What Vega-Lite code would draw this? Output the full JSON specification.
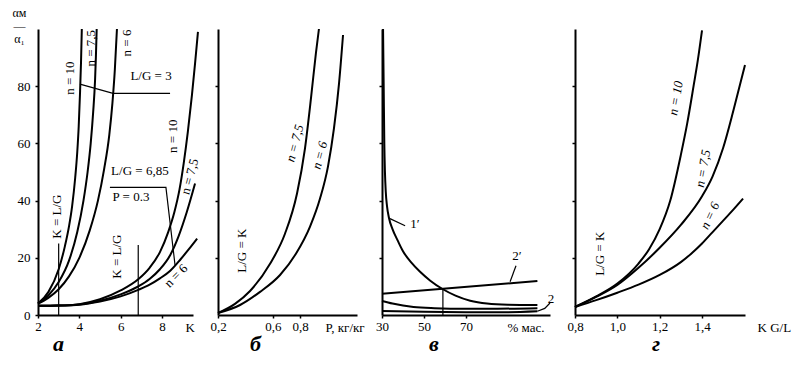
{
  "$schema": "https://vega.github.io/schema/vega-lite/v6.json",
  "padding": {"left": 12, "top": 6, "right": 2, "bottom": 2},
  "bounds": "flush",
  "spacing": 25,
  "config": {
    "view": {"stroke": null},
    "axis": {"domainColor": "black", "domainWidth": 2, "tickColor": "black", "tickWidth": 1.5, "tickSize": 3, "labelFont": "Liberation Serif", "labelFontSize": 13, "labelColor": "black", "labelFlush": false, "grid": false, "titleFont": "Liberation Serif", "titleFontSize": 13, "titleFontWeight": "normal", "titleColor": "black"},
    "text": {"font": "Liberation Serif", "fontSize": 13, "color": "black"},
    "line": {"color": "black"},
    "title": {"font": "Liberation Serif", "fontSize": 22, "fontStyle": "italic", "fontWeight": "bold", "color": "black"}
  },
  "datasets": {
    "a_curves": [
      {"curve": "3_10", "K": 2, "v": 4}, {"curve": "3_10", "K": 2.5, "v": 8}, {"curve": "3_10", "K": 3, "v": 16}, {"curve": "3_10", "K": 3.3, "v": 24}, {"curve": "3_10", "K": 3.5, "v": 31}, {"curve": "3_10", "K": 3.65, "v": 38}, {"curve": "3_10", "K": 3.8, "v": 48}, {"curve": "3_10", "K": 3.9, "v": 57}, {"curve": "3_10", "K": 3.97, "v": 66}, {"curve": "3_10", "K": 4.03, "v": 77}, {"curve": "3_10", "K": 4.08, "v": 88}, {"curve": "3_10", "K": 4.12, "v": 100},
      {"curve": "3_7.5", "K": 2, "v": 4}, {"curve": "3_7.5", "K": 2.5, "v": 6.8}, {"curve": "3_7.5", "K": 3, "v": 11.5}, {"curve": "3_7.5", "K": 3.5, "v": 19}, {"curve": "3_7.5", "K": 3.9, "v": 29}, {"curve": "3_7.5", "K": 4.2, "v": 40}, {"curve": "3_7.5", "K": 4.4, "v": 50}, {"curve": "3_7.5", "K": 4.55, "v": 60}, {"curve": "3_7.5", "K": 4.67, "v": 71}, {"curve": "3_7.5", "K": 4.76, "v": 82}, {"curve": "3_7.5", "K": 4.8, "v": 90}, {"curve": "3_7.5", "K": 4.84, "v": 100},
      {"curve": "3_6", "K": 2, "v": 4}, {"curve": "3_6", "K": 2.5, "v": 6}, {"curve": "3_6", "K": 3, "v": 9}, {"curve": "3_6", "K": 3.5, "v": 13.5}, {"curve": "3_6", "K": 4, "v": 20}, {"curve": "3_6", "K": 4.5, "v": 29.5}, {"curve": "3_6", "K": 4.9, "v": 40}, {"curve": "3_6", "K": 5.2, "v": 51}, {"curve": "3_6", "K": 5.45, "v": 63}, {"curve": "3_6", "K": 5.6, "v": 74}, {"curve": "3_6", "K": 5.72, "v": 86}, {"curve": "3_6", "K": 5.82, "v": 100},
      {"curve": "685_10", "K": 2, "v": 3.2}, {"curve": "685_10", "K": 3, "v": 3.3}, {"curve": "685_10", "K": 4, "v": 3.8}, {"curve": "685_10", "K": 5, "v": 5.5}, {"curve": "685_10", "K": 6, "v": 8.6}, {"curve": "685_10", "K": 6.85, "v": 12.5}, {"curve": "685_10", "K": 7.4, "v": 16.5}, {"curve": "685_10", "K": 7.9, "v": 22}, {"curve": "685_10", "K": 8.3, "v": 29}, {"curve": "685_10", "K": 8.6, "v": 36}, {"curve": "685_10", "K": 8.85, "v": 44}, {"curve": "685_10", "K": 9.05, "v": 53}, {"curve": "685_10", "K": 9.25, "v": 64}, {"curve": "685_10", "K": 9.45, "v": 77}, {"curve": "685_10", "K": 9.6, "v": 88}, {"curve": "685_10", "K": 9.74, "v": 99},
      {"curve": "685_7.5", "K": 2, "v": 3.2}, {"curve": "685_7.5", "K": 3, "v": 3.3}, {"curve": "685_7.5", "K": 4, "v": 3.7}, {"curve": "685_7.5", "K": 5, "v": 5}, {"curve": "685_7.5", "K": 6, "v": 7.2}, {"curve": "685_7.5", "K": 6.85, "v": 10}, {"curve": "685_7.5", "K": 7.4, "v": 12.6}, {"curve": "685_7.5", "K": 7.9, "v": 16}, {"curve": "685_7.5", "K": 8.4, "v": 21}, {"curve": "685_7.5", "K": 8.8, "v": 27.5}, {"curve": "685_7.5", "K": 9.2, "v": 36}, {"curve": "685_7.5", "K": 9.6, "v": 46},
      {"curve": "685_6", "K": 2, "v": 3.2}, {"curve": "685_6", "K": 3, "v": 3.3}, {"curve": "685_6", "K": 4, "v": 3.6}, {"curve": "685_6", "K": 5, "v": 4.7}, {"curve": "685_6", "K": 6, "v": 6.5}, {"curve": "685_6", "K": 6.85, "v": 8.8}, {"curve": "685_6", "K": 7.4, "v": 10.6}, {"curve": "685_6", "K": 7.9, "v": 12.8}, {"curve": "685_6", "K": 8.4, "v": 15.5}, {"curve": "685_6", "K": 8.9, "v": 19.5}, {"curve": "685_6", "K": 9.3, "v": 23}, {"curve": "685_6", "K": 9.7, "v": 26.7}
    ],
    "a_guides": [
      {"seg": "k3", "K": 3, "v": 0}, {"seg": "k3", "K": 3, "v": 25},
      {"seg": "k685", "K": 6.85, "v": 0}, {"seg": "k685", "K": 6.85, "v": 24.5},
      {"seg": "lg3", "K": 4.03, "v": 80.7}, {"seg": "lg3", "K": 5.63, "v": 77.5}, {"seg": "lg3", "K": 8.39, "v": 77.5},
      {"seg": "lg685", "K": 5.48, "v": 44.6}, {"seg": "lg685", "K": 8.19, "v": 44.6}, {"seg": "lg685", "K": 8.63, "v": 17.5}
    ],
    "b_curves": [
      {"curve": "7.5", "P": 0.2, "v": 0.7}, {"curve": "7.5", "P": 0.324, "v": 3.9}, {"curve": "7.5", "P": 0.434, "v": 8.4}, {"curve": "7.5", "P": 0.58, "v": 17.9}, {"curve": "7.5", "P": 0.689, "v": 28.4}, {"curve": "7.5", "P": 0.777, "v": 42.5}, {"curve": "7.5", "P": 0.835, "v": 58.2}, {"curve": "7.5", "P": 0.879, "v": 75.8}, {"curve": "7.5", "P": 0.915, "v": 91.6}, {"curve": "7.5", "P": 0.937, "v": 100},
      {"curve": "6", "P": 0.2, "v": 0.7}, {"curve": "6", "P": 0.361, "v": 3.5}, {"curve": "6", "P": 0.507, "v": 8.1}, {"curve": "6", "P": 0.653, "v": 14}, {"curve": "6", "P": 0.769, "v": 21.4}, {"curve": "6", "P": 0.872, "v": 30.9}, {"curve": "6", "P": 0.945, "v": 40.7}, {"curve": "6", "P": 1.003, "v": 51.9}, {"curve": "6", "P": 1.047, "v": 65.3}, {"curve": "6", "P": 1.084, "v": 81.1}, {"curve": "6", "P": 1.113, "v": 97.9}
    ],
    "c_curves": [
      {"curve": "1p", "c": 30.5, "v": 100}, {"curve": "1p", "c": 30.8, "v": 80}, {"curve": "1p", "c": 31.1, "v": 60}, {"curve": "1p", "c": 31.4, "v": 50}, {"curve": "1p", "c": 31.8, "v": 43}, {"curve": "1p", "c": 32.4, "v": 38}, {"curve": "1p", "c": 33.3, "v": 34}, {"curve": "1p", "c": 35, "v": 30}, {"curve": "1p", "c": 37.5, "v": 26}, {"curve": "1p", "c": 40, "v": 22.3}, {"curve": "1p", "c": 44, "v": 18.3}, {"curve": "1p", "c": 48, "v": 15.2}, {"curve": "1p", "c": 53, "v": 12}, {"curve": "1p", "c": 59, "v": 9}, {"curve": "1p", "c": 65, "v": 6.8}, {"curve": "1p", "c": 72, "v": 5}, {"curve": "1p", "c": 80, "v": 4}, {"curve": "1p", "c": 90, "v": 3.6}, {"curve": "1p", "c": 104, "v": 3.5},
      {"curve": "2p", "c": 30, "v": 7.4}, {"curve": "2p", "c": 104, "v": 11.9},
      {"curve": "1", "c": 30, "v": 4.9}, {"curve": "1", "c": 35, "v": 4}, {"curve": "1", "c": 40, "v": 3.3}, {"curve": "1", "c": 45, "v": 2.8}, {"curve": "1", "c": 55, "v": 2.4}, {"curve": "1", "c": 70, "v": 2.2}, {"curve": "1", "c": 85, "v": 2.2}, {"curve": "1", "c": 104, "v": 2.4},
      {"curve": "2", "c": 30, "v": 1.4}, {"curve": "2", "c": 50, "v": 1.1}, {"curve": "2", "c": 70, "v": 1}, {"curve": "2", "c": 90, "v": 1}, {"curve": "2", "c": 104, "v": 1.3}
    ],
    "c_guides": [
      {"seg": "l1p", "c": 33.8, "v": 33.7}, {"seg": "l1p", "c": 41, "v": 31.2},
      {"seg": "l2p", "c": 91, "v": 11.6}, {"seg": "l2p", "c": 93.8, "v": 17.2},
      {"seg": "v59", "c": 59, "v": 0}, {"seg": "v59", "c": 59, "v": 9},
      {"seg": "l2", "c": 104, "v": 1.3}, {"seg": "l2", "c": 107.5, "v": 2.3}, {"seg": "l2", "c": 110, "v": 4.2}
    ],
    "d_curves": [
      {"curve": "10", "KGL": 0.8, "v": 2.8}, {"curve": "10", "KGL": 0.9, "v": 6.5}, {"curve": "10", "KGL": 1.0, "v": 11}, {"curve": "10", "KGL": 1.1, "v": 18}, {"curve": "10", "KGL": 1.15, "v": 23}, {"curve": "10", "KGL": 1.2, "v": 30}, {"curve": "10", "KGL": 1.25, "v": 40}, {"curve": "10", "KGL": 1.3, "v": 56}, {"curve": "10", "KGL": 1.33, "v": 67}, {"curve": "10", "KGL": 1.36, "v": 80}, {"curve": "10", "KGL": 1.38, "v": 89}, {"curve": "10", "KGL": 1.4, "v": 99.5},
      {"curve": "7.5", "KGL": 0.8, "v": 2.8}, {"curve": "7.5", "KGL": 0.9, "v": 6.3}, {"curve": "7.5", "KGL": 1.0, "v": 10.5}, {"curve": "7.5", "KGL": 1.1, "v": 16.5}, {"curve": "7.5", "KGL": 1.2, "v": 23.5}, {"curve": "7.5", "KGL": 1.3, "v": 31.5}, {"curve": "7.5", "KGL": 1.4, "v": 41.5}, {"curve": "7.5", "KGL": 1.45, "v": 48.5}, {"curve": "7.5", "KGL": 1.5, "v": 58.5}, {"curve": "7.5", "KGL": 1.55, "v": 72}, {"curve": "7.5", "KGL": 1.603, "v": 87.4},
      {"curve": "6", "KGL": 0.8, "v": 2.8}, {"curve": "6", "KGL": 0.9, "v": 5.2}, {"curve": "6", "KGL": 1.0, "v": 7.8}, {"curve": "6", "KGL": 1.1, "v": 10.6}, {"curve": "6", "KGL": 1.2, "v": 14}, {"curve": "6", "KGL": 1.3, "v": 18.5}, {"curve": "6", "KGL": 1.35, "v": 21.5}, {"curve": "6", "KGL": 1.4, "v": 25}, {"curve": "6", "KGL": 1.45, "v": 29}, {"curve": "6", "KGL": 1.5, "v": 33}, {"curve": "6", "KGL": 1.55, "v": 37}, {"curve": "6", "KGL": 1.594, "v": 40.7}
    ]
  },
  "hconcat": [
    {
      "width": 155, "height": 286,
      "title": {"text": "а", "orient": "bottom", "anchor": "middle", "dx": -57, "offset": 0},
      "encoding": {
        "x": {"field": "K", "type": "quantitative", "scale": {"domain": [2, 9.5], "nice": false, "zero": false},
              "axis": {"values": [2, 4, 6, 8], "format": "d", "title": "K", "titleAngle": 0, "titleAlign": "left", "titleBaseline": "middle", "titleX": 147, "titleY": 12}},
        "y": {"field": "v", "type": "quantitative", "scale": {"domain": [0, 100], "nice": false},
              "axis": {"values": [0, 20, 40, 60, 80], "title": ["αм", "—", "α₁"], "titleAngle": 0, "titleAlign": "center", "titleBaseline": "top", "titleX": -19, "titleY": -22, "titleFontSize": 12, "titleLineHeight": 13, "labelPadding": 5}}
      },
      "layer": [
        {"data": {"name": "a_curves"}, "mark": {"type": "line", "interpolate": "monotone", "strokeWidth": 2}, "encoding": {"detail": {"field": "curve"}}},
        {"data": {"name": "a_guides"}, "mark": {"type": "line", "strokeWidth": 1.2}, "encoding": {"detail": {"field": "seg"}}},
        {"data": {"values": [{"t": "n = 10", "K": 3.55, "v": 82.8}, {"t": "n = 7,5", "K": 4.56, "v": 93.3}, {"t": "n = 6", "K": 6.31, "v": 95.1}, {"t": "n = 10", "K": 8.53, "v": 62.5}, {"t": "K = L/G", "K": 2.92, "v": 34.4}, {"t": "K = L/G", "K": 5.82, "v": 20.4}]},
         "mark": {"type": "text", "angle": -90, "align": "center", "baseline": "middle"}, "encoding": {"text": {"field": "t"}}},
        {"data": {"values": [{"t": "L/G = 3", "K": 7.47, "v": 83.5}, {"t": "L/G = 6,85", "K": 6.93, "v": 50.5}, {"t": "P = 0.3", "K": 6.5, "v": 41.4}]},
         "mark": {"type": "text", "align": "center", "baseline": "middle"}, "encoding": {"text": {"field": "t"}}},
        {"data": {"values": [{"t": "n = 7,5", "K": 9.35, "v": 48.4}]},
         "mark": {"type": "text", "angle": -75, "align": "center", "baseline": "middle"}, "encoding": {"text": {"field": "t"}}},
        {"data": {"values": [{"t": "n = 6", "K": 8.68, "v": 13.7}]},
         "mark": {"type": "text", "angle": -45, "align": "center", "baseline": "middle"}, "encoding": {"text": {"field": "t"}}}
      ]
    },
    {
      "width": 139, "height": 286,
      "title": {"text": "б", "orient": "bottom", "anchor": "middle", "dx": -32, "offset": 0},
      "encoding": {
        "x": {"field": "P", "type": "quantitative", "scale": {"domain": [0.2, 1.215], "nice": false, "zero": false},
              "axis": {"values": [0.2, 0.6, 0.8], "format": ".1f", "labelExpr": "replace(datum.label, '.', ',')", "title": "P, кг/кг", "titleAngle": 0, "titleAlign": "left", "titleBaseline": "middle", "titleX": 107, "titleY": 12}},
        "y": {"field": "v", "type": "quantitative", "scale": {"domain": [0, 100], "nice": false},
              "axis": {"values": [20, 40, 60, 80], "labels": false, "title": null}}
      },
      "layer": [
        {"data": {"name": "b_curves"}, "mark": {"type": "line", "interpolate": "monotone", "strokeWidth": 2}, "encoding": {"detail": {"field": "curve"}}},
        {"data": {"values": [{"t": "L/G = K", "P": 0.375, "v": 22.5}]},
         "mark": {"type": "text", "angle": -90, "align": "center", "baseline": "middle"}, "encoding": {"text": {"field": "t"}}},
        {"data": {"values": [{"t": "n = 7,5", "P": 0.762, "v": 60}, {"t": "n = 6", "P": 0.945, "v": 55.8}]},
         "mark": {"type": "text", "angle": -75, "align": "center", "baseline": "middle", "fontStyle": "italic"}, "encoding": {"text": {"field": "t"}}}
      ]
    },
    {
      "width": 168, "height": 286,
      "title": {"text": "в", "orient": "bottom", "anchor": "middle", "dx": -32, "offset": 0},
      "encoding": {
        "x": {"field": "c", "type": "quantitative", "scale": {"domain": [30, 110], "nice": false, "zero": false},
              "axis": {"values": [30, 50, 70], "format": "d", "title": "% мас.", "titleAngle": 0, "titleAlign": "left", "titleBaseline": "middle", "titleX": 125, "titleY": 12}},
        "y": {"field": "v", "type": "quantitative", "scale": {"domain": [0, 100], "nice": false},
              "axis": {"values": [20, 40, 60, 80], "labels": false, "title": null}}
      },
      "layer": [
        {"data": {"name": "c_curves"}, "mark": {"type": "line", "interpolate": "monotone", "strokeWidth": 2}, "encoding": {"detail": {"field": "curve"}}},
        {"data": {"name": "c_guides"}, "mark": {"type": "line", "strokeWidth": 1.2}, "encoding": {"detail": {"field": "seg"}}},
        {"data": {"values": [{"t": "1′", "c": 45.7, "v": 31.9}, {"t": "2′", "c": 94.3, "v": 20.7}, {"t": "2", "c": 110.5, "v": 5.6}]},
         "mark": {"type": "text", "align": "center", "baseline": "middle"}, "encoding": {"text": {"field": "t"}}}
      ]
    },
    {
      "width": 170, "height": 286,
      "title": {"text": "г", "orient": "bottom", "anchor": "middle", "dx": -4, "offset": 0},
      "encoding": {
        "x": {"field": "KGL", "type": "quantitative", "scale": {"domain": [0.8, 1.603], "nice": false, "zero": false},
              "axis": {"values": [0.8, 1.0, 1.2, 1.4], "format": ".1f", "labelExpr": "replace(datum.label, '.', ',')", "title": "K G/L", "titleAngle": 0, "titleAlign": "left", "titleBaseline": "middle", "titleX": 182, "titleY": 12}},
        "y": {"field": "v", "type": "quantitative", "scale": {"domain": [0, 100], "nice": false},
              "axis": {"values": [20, 40, 60, 80], "labels": false, "title": null}}
      },
      "layer": [
        {"data": {"name": "d_curves"}, "mark": {"type": "line", "interpolate": "monotone", "strokeWidth": 2}, "encoding": {"detail": {"field": "curve"}}},
        {"data": {"values": [{"t": "L/G = K", "KGL": 0.918, "v": 21.4}]},
         "mark": {"type": "text", "angle": -90, "align": "center", "baseline": "middle"}, "encoding": {"text": {"field": "t"}}},
        {"data": {"values": [{"t": "n = 10", "KGL": 1.277, "v": 75.8}, {"t": "n = 7,5", "KGL": 1.405, "v": 51.2}]},
         "mark": {"type": "text", "angle": -80, "align": "center", "baseline": "middle", "fontStyle": "italic"}, "encoding": {"text": {"field": "t"}}},
        {"data": {"values": [{"t": "n = 6", "KGL": 1.438, "v": 34.7}]},
         "mark": {"type": "text", "angle": -65, "align": "center", "baseline": "middle", "fontStyle": "italic"}, "encoding": {"text": {"field": "t"}}}
      ]
    }
  ]
}
